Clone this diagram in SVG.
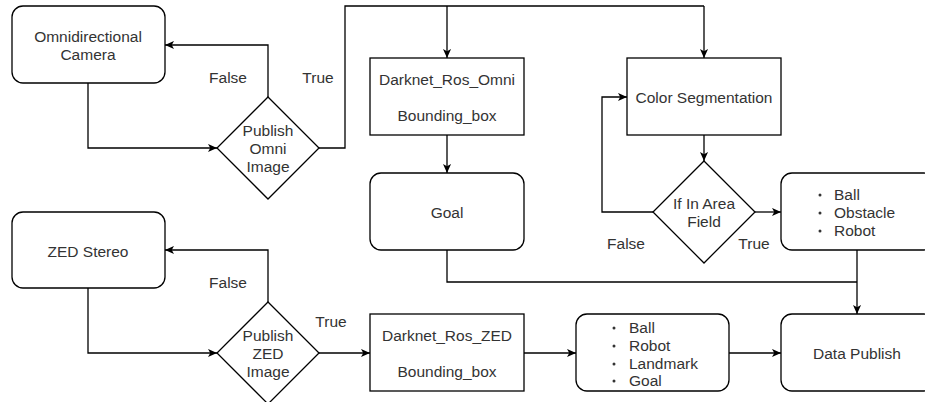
<svg xmlns="http://www.w3.org/2000/svg" width="925" height="402" viewBox="0 0 925 402">
<style>
.box{fill:#fff;stroke:#000;stroke-width:1.3}
.t{font-family:"Liberation Sans",Arial,sans-serif;font-size:15.5px;fill:#333;text-anchor:middle}
.l{font-family:"Liberation Sans",Arial,sans-serif;font-size:15.5px;fill:#333;text-anchor:start}
.c{fill:none;stroke:#000;stroke-width:1.3}
.a{marker-end:url(#arr)}
.b{fill:#333}
</style>
<defs>
<marker id="arr" viewBox="0 0 10 10" refX="10" refY="5" markerWidth="9" markerHeight="9" markerUnits="userSpaceOnUse" orient="auto">
<path d="M0,0.5 L10,5 L0,9.5 L2.5,5 Z" fill="#000"/>
</marker>
</defs>
<rect width="925" height="402" fill="#fff"/>
<g id="connectors">
<path class="c a" d="M88,83 V148 H217"/>
<path class="c a" d="M268,97 V45 H165"/>
<path class="c" d="M319,148 H345 V6 H704"/>
<path class="c a" d="M704,6 V58"/>
<path class="c a" d="M447,6 V58"/>
<path class="c a" d="M447,135 V173"/>
<path class="c" d="M447,250 V282 H857"/>
<path class="c a" d="M704,135 V161"/>
<path class="c a" d="M653,212 H602 V97 H627"/>
<path class="c a" d="M755,212 H781"/>
<path class="c a" d="M857,250 V314"/>
<path class="c a" d="M88,288 V353 H217"/>
<path class="c a" d="M268,302 V250 H165"/>
<path class="c a" d="M319,353 H370"/>
<path class="c a" d="M524,353 H576"/>
<path class="c a" d="M729,353 H781"/>
<text class="t" x="228" y="83">False</text>
<text class="t" x="318" y="83">True</text>
<text class="t" x="626" y="249">False</text>
<text class="t" x="754" y="249">True</text>
<text class="t" x="228" y="288">False</text>
<text class="t" x="331" y="327">True</text>
</g>
<g id="omni-camera">
<rect class="box" x="12" y="6" width="153" height="77" rx="11"/>
<text class="t" x="88" y="41.5">Omnidirectional</text>
<text class="t" x="88" y="59.5">Camera</text>
</g>
<g id="publish-omni">
<polygon class="box" points="268,97 319,148 268,199 217,148"/>
<text class="t" x="268" y="135.5">Publish</text>
<text class="t" x="268" y="153.5">Omni</text>
<text class="t" x="268" y="171.5">Image</text>
</g>
<g id="darknet-omni">
<rect class="box" x="370" y="58" width="154" height="77"/>
<text class="t" x="447" y="84.5">Darknet_Ros_Omni</text>
<text class="t" x="447" y="120.5">Bounding_box</text>
</g>
<g id="goal">
<rect class="box" x="370" y="173" width="154" height="77" rx="11"/>
<text class="t" x="447" y="217.5">Goal</text>
</g>
<g id="color-seg">
<rect class="box" x="627" y="58" width="154" height="77"/>
<text class="t" x="704" y="102.5">Color Segmentation</text>
</g>
<g id="in-area">
<polygon class="box" points="704,161 755,212 704,263 653,212"/>
<text class="t" x="704" y="208.5">If In Area</text>
<text class="t" x="704" y="226.5">Field</text>
</g>
<g id="omni-objects">
<rect class="box" x="781" y="173" width="154" height="77" rx="11"/>
<circle class="b" cx="820" cy="195" r="1.5"/>
<circle class="b" cx="820" cy="213" r="1.5"/>
<circle class="b" cx="820" cy="231" r="1.5"/>
<text class="l" x="834" y="199.5">Ball</text>
<text class="l" x="834" y="217.5">Obstacle</text>
<text class="l" x="834" y="235.5">Robot</text>
</g>
<g id="zed-stereo">
<rect class="box" x="12" y="212" width="153" height="76" rx="11"/>
<text class="t" x="88" y="256.5">ZED Stereo</text>
</g>
<g id="publish-zed">
<polygon class="box" points="268,302 319,353 268,404 217,353"/>
<text class="t" x="268" y="340.5">Publish</text>
<text class="t" x="268" y="358.5">ZED</text>
<text class="t" x="268" y="376.5">Image</text>
</g>
<g id="darknet-zed">
<rect class="box" x="370" y="314" width="154" height="77"/>
<text class="t" x="447" y="340.5">Darknet_Ros_ZED</text>
<text class="t" x="447" y="376.5">Bounding_box</text>
</g>
<g id="zed-objects">
<rect class="box" x="576" y="314" width="153" height="77" rx="11"/>
<circle class="b" cx="614" cy="328" r="1.5"/>
<circle class="b" cx="614" cy="346" r="1.5"/>
<circle class="b" cx="614" cy="364" r="1.5"/>
<circle class="b" cx="614" cy="381" r="1.5"/>
<text class="l" x="629" y="332.5">Ball</text>
<text class="l" x="629" y="350.5">Robot</text>
<text class="l" x="629" y="368.5">Landmark</text>
<text class="l" x="629" y="385.5">Goal</text>
</g>
<g id="data-publish">
<rect class="box" x="781" y="314" width="154" height="77" rx="11"/>
<text class="t" x="857" y="358.5">Data Publish</text>
</g>
</svg>
